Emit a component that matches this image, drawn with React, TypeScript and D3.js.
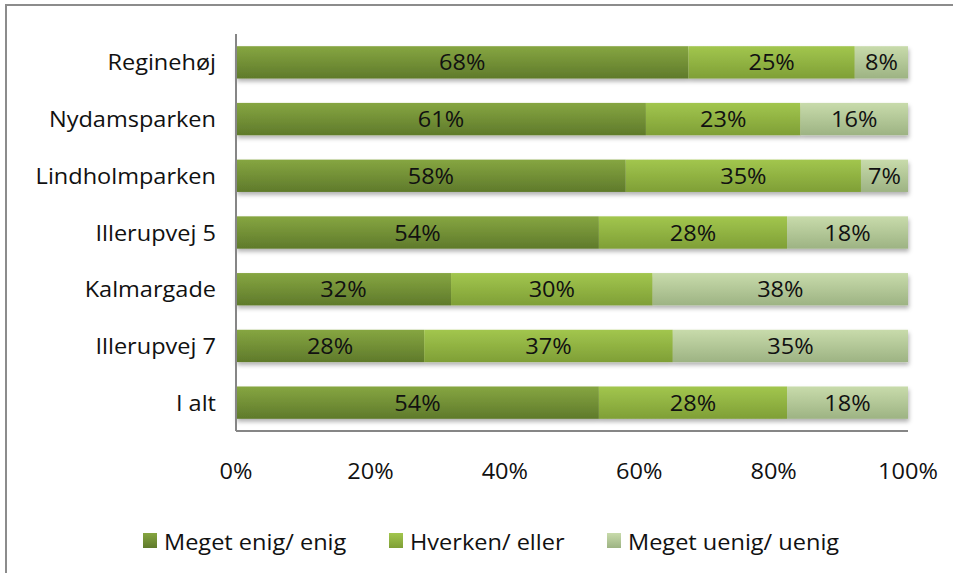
import * as d3 from 'd3';
import React, { useRef, useEffect } from 'react';

const categories = ['Reginehøj', 'Nydamsparken', 'Lindholmparken', 'Illerupvej 5', 'Kalmargade', 'Illerupvej 7', 'I alt'];
const enig = [68, 61, 58, 54, 32, 28, 54];
const hverken = [25, 23, 35, 28, 30, 37, 28];
const uenig = [8, 16, 7, 18, 38, 35, 18];
const seriesNames = ['Meget enig/ enig', 'Hverken/ eller', 'Meget uenig/ uenig'];
const ticks = [0, 0.2, 0.4, 0.6, 0.8, 1];

const width = 953;
const height = 573;
const font = 'Open Sans';
const fontSize = '22px';
const stretch = 1.07; // text in the picture is a bit wide

const gradients = [
    { id: 'g0', top: '#86a641', bottom: '#5f7a2b' },
    { id: 'g1', top: '#a2c64e', bottom: '#7f9f36' },
    { id: 'g2', top: '#c8dbab', bottom: '#9db383' },
];

function App() {
    const ref = useRef<SVGSVGElement>(null);

    useEffect(() => {
        draw();
    });

    // text placed at (x,y) and stretched sideways
    const label = (parent: any, x: number, y: number, txt: string, anchor: string) => {
        parent.append('text')
            .attr('transform', `translate(${x},${y}) scale(${stretch},1)`)
            .attr('text-anchor', anchor)
            .text(txt)
            .attr('fill', '#111')
            .style('font-family', font)
            .style('font-size', fontSize);
    };

    const draw = () => {
        const svg = d3.select(ref.current)
            .attr('width', width)
            .attr('height', height);
        svg.selectAll('*').remove();

        const margin = { top: 34, left: 236, right: 45, bottom: 142 };

        const defs = svg.append('defs');
        gradients.forEach(g => {
            const lg = defs.append('linearGradient')
                .attr('id', g.id)
                .attr('x1', 0).attr('y1', 0).attr('x2', 0).attr('y2', 1);
            lg.append('stop').attr('offset', '0%').attr('stop-color', g.top);
            lg.append('stop').attr('offset', '100%').attr('stop-color', g.bottom);
        });
        const f = defs.append('filter').attr('id', 'shadow')
            .attr('x', '-5%').attr('y', '-20%').attr('width', '110%').attr('height', '160%');
        f.append('feDropShadow')
            .attr('dx', 1).attr('dy', 3).attr('stdDeviation', 2)
            .attr('flood-color', '#000').attr('flood-opacity', 0.3);

        // outer frame
        svg.append('rect')
            .attr('x', 6).attr('y', 5)
            .attr('width', width + 10).attr('height', height + 10)
            .attr('fill', 'white')
            .attr('stroke', '#8c8c8c')
            .attr('stroke-width', 2);

        const scaleY = d3.scaleBand()
            .domain(categories)
            .range([margin.top, height - margin.bottom])
            .paddingInner(0.43)
            .paddingOuter(0.215);

        const scaleX = d3.scaleLinear()
            .domain([0, 1])
            .range([margin.left, width - margin.right]);

        const rows = categories.map((c, i) => {
            const vals = [enig[i], hverken[i], uenig[i]];
            const sum = d3.sum(vals);
            let acc = 0;
            return vals.map((v, k) => {
                const x0 = acc / sum;
                acc += v;
                return { cat: c, k, v, x0, x1: acc / sum };
            });
        });

        const barg = svg.append('g');
        rows.forEach(segs => {
            const g = barg.append('g').attr('filter', 'url(#shadow)');
            g.selectAll('rect')
                .data(segs)
                .enter()
                .append('rect')
                .attr('x', d => scaleX(d.x0))
                .attr('y', d => scaleY(d.cat)!)
                .attr('width', d => scaleX(d.x1) - scaleX(d.x0))
                .attr('height', scaleY.bandwidth())
                .attr('fill', d => `url(#${gradients[d.k].id})`);
        });

        const textg = svg.append('g');
        rows.forEach(segs => {
            segs.forEach(d => {
                label(textg,
                    (scaleX(d.x0) + scaleX(d.x1)) / 2,
                    scaleY(d.cat)! + scaleY.bandwidth() / 2 + 8,
                    d.v + '%', 'middle');
            });
        });

        // axes lines
        svg.append('line')
            .attr('x1', margin.left).attr('x2', margin.left)
            .attr('y1', margin.top).attr('y2', height - margin.bottom)
            .attr('stroke', '#868686').attr('stroke-width', 2);
        svg.append('line')
            .attr('x1', margin.left).attr('x2', width - margin.right)
            .attr('y1', height - margin.bottom).attr('y2', height - margin.bottom)
            .attr('stroke', '#868686').attr('stroke-width', 2);

        // category labels
        categories.forEach(c => {
            label(textg, margin.left - 20, scaleY(c)! + scaleY.bandwidth() / 2 + 8, c, 'end');
        });

        // x tick labels
        ticks.forEach(t => {
            label(textg, scaleX(t), 479, d3.format('.0%')(t), 'middle');
        });

        // legend
        const legendX = [143, 389, 607];
        const lg = svg.append('g');
        seriesNames.forEach((name, i) => {
            lg.append('rect')
                .attr('x', legendX[i]).attr('y', 533)
                .attr('width', 14).attr('height', 15)
                .attr('fill', `url(#${gradients[i].id})`);
            label(lg, legendX[i] + 21, 550, name, 'start');
        });
    };

    return (
        <div className="chart">
            <svg ref={ref} style={{ position: 'absolute', left: 0, top: 0 }}>
            </svg>
        </div>
    );
}

export default App;
